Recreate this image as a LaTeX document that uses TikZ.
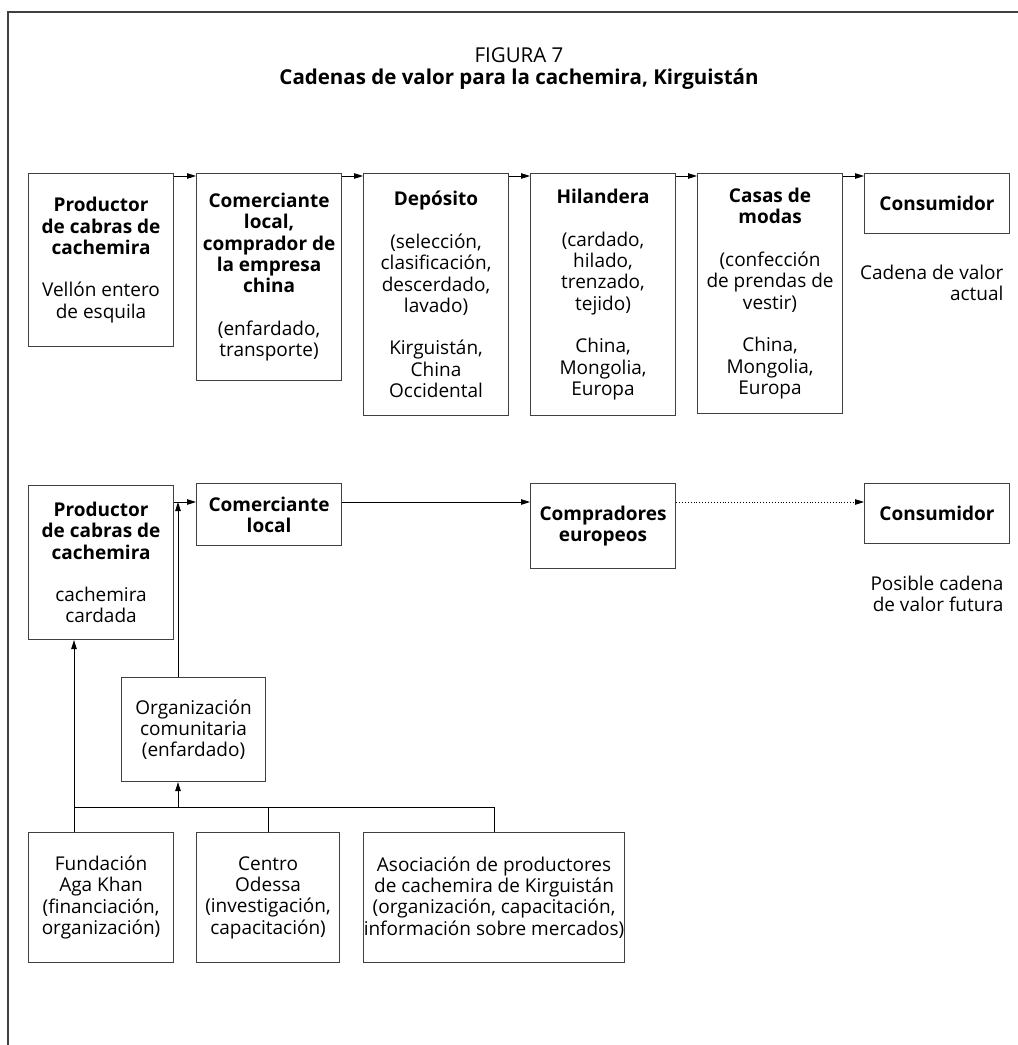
\documentclass[tikz,border=0pt]{standalone}
\usepackage{fontspec}
\setmainfont{Open Sans}
\usetikzlibrary{arrows.meta}

\begin{document}
\begin{tikzpicture}[x=1pt, y=-1pt,
    every node/.style={font=\fontsize{19}{21.3}\selectfont},
    caja/.style={draw=black!75, line width=1.1pt, anchor=north west, align=center, inner sep=0pt, minimum width=145pt},
    flecha/.style={-{Triangle[length=9pt,width=5.5pt]}, line width=0.9pt},
    nota/.style={align=right, anchor=east}]
    \useasboundingbox (0,0) rectangle (1018,1045);
    % Marco
    \draw[line width=1.4pt, black!75] (8,1045) -- (8,12) -- (1018,12);
    % Titulo
    \node[font=\fontsize{20.5}{24}\selectfont] (fig) at (519,55) {FIGURA 7};
    \node[font=\fontsize{20.5}{24}\selectfont] (tit) at (519,79) {\textbf{Cadenas de valor para la cachemira, Kirguistán}};
    % Cadena de valor actual
    \node[caja, minimum height=173pt] (prod1) at (28,173) {\textbf{Productor}\\\textbf{de cabras de}\\\textbf{cachemira}\\[21.3pt]Vellón entero\\de esquila};
    \node[caja, minimum height=207pt] (com1) at (196,173) {\textbf{Comerciante}\\\textbf{local,}\\\textbf{comprador de}\\\textbf{la empresa}\\\textbf{china}\\[21.3pt](enfardado,\\transporte)};
    \node[caja, minimum height=242pt] (dep) at (363,173) {\textbf{Depósito}\\[21.3pt](selección,\\clasificación,\\descerdado,\\lavado)\\[21.3pt]Kirguistán,\\China\\Occidental};
    \node[caja, minimum height=242pt] (hil) at (530,173) {\textbf{Hilandera}\\[21.3pt](cardado,\\hilado,\\trenzado,\\tejido)\\[21.3pt]China,\\Mongolia,\\Europa};
    \node[caja, minimum height=240pt] (casas) at (697,173) {\textbf{Casas de}\\\textbf{modas}\\[21.3pt](confección\\de prendas de\\vestir)\\[21.3pt]China,\\Mongolia,\\Europa};
    \node[caja, minimum height=60pt] (cons1) at (864,173) {\textbf{Consumidor}};
    \node[nota] (actual) at (1007,283) {Cadena de valor\\actual};
    \coordinate (fila) at (0,176);
    \foreach \a/\b in {prod1/com1, com1/dep, dep/hil, hil/casas, casas/cons1}
        \draw[flecha] (\a.east |- fila) -- (\b.west |- fila);
    % Cadena de valor futura
    \node[caja, minimum height=154pt] (prod2) at (28,485) {\textbf{Productor}\\\textbf{de cabras de}\\\textbf{cachemira}\\[21.3pt]cachemira\\cardada};
    \node[caja, minimum height=62pt] (com2) at (196,483) {\textbf{Comerciante}\\\textbf{local}};
    \node[caja, minimum height=85pt] (compr) at (530,483) {\textbf{Compradores}\\\textbf{europeos}};
    \node[caja, minimum height=60pt] (cons2) at (864,483) {\textbf{Consumidor}};
    \node[nota] (futura) at (1007,594) {Posible cadena\\de valor futura};
    \coordinate (union) at (178,502);
    \draw[flecha] (prod2.east |- union) -- (com2.west |- union);
    \draw[flecha] (com2.east |- union) -- (compr.west |- union);
    \draw[flecha, dotted] (compr.east |- union) -- (cons2.west |- union);
    % Apoyo
    \node[caja, minimum width=144pt, minimum height=104pt] (org) at (121,677) {Organización\\comunitaria\\(enfardado)};
    \node[caja, minimum height=130pt] (fund) at (28,832) {Fundación\\Aga Khan\\(financiación,\\organización)};
    \node[caja, minimum width=143pt, minimum height=130pt] (centro) at (196,832) {Centro\\Odessa\\(investigación,\\capacitación)};
    \node[caja, minimum width=261pt, minimum height=130pt] (asoc) at (363,832) {Asociación de productores\\de cachemira de Kirguistán\\(organización, capacitación,\\información sobre mercados)};
    \coordinate (bus) at (0,807);
    \coordinate (fundx) at (74,0);
    \draw[flecha] (fund.north -| fundx) -- (prod2.south -| fundx);
    \draw[line width=0.9pt] (fundx |- bus) -- (asoc.north |- bus) -- (asoc.north);
    \draw[line width=0.9pt] (centro.north) -- (centro.north |- bus);
    \draw[flecha] (union |- bus) -- (org.south -| union);
    \draw[flecha] (org.north -| union) -- (union);
\end{tikzpicture}
\end{document}
